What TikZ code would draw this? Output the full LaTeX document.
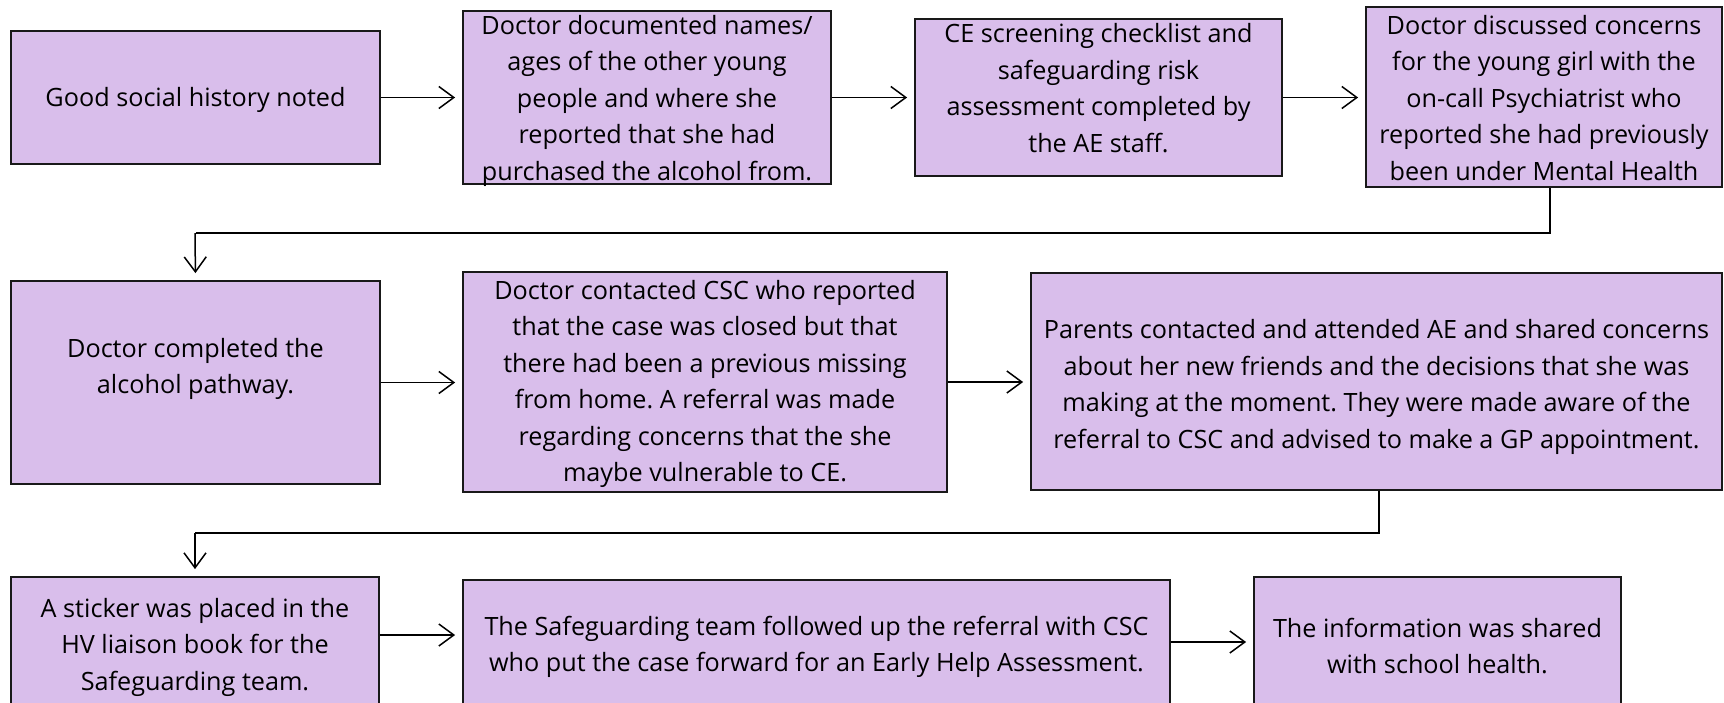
\documentclass[tikz,border=0pt]{standalone}
\usepackage{fontspec}
\setmainfont{Open Sans}
\usetikzlibrary{arrows.meta}
\definecolor{boxfill}{RGB}{217,190,235}
\definecolor{edge}{RGB}{25,25,25}
\tikzset{
  box/.style={draw=edge, line width=1.8pt, fill=boxfill, inner sep=0pt},
  txt/.style={align=center, inner sep=0pt, text=black, font={\fontsize{25.2}{36.5}\selectfont\frenchspacing}},
  arr/.style={draw=black, line width=1.5pt, shorten >=7pt, -{Straight Barb[length=15pt,width=22pt,line width=1.5pt]}},
  conn/.style={draw=black, line width=1.8pt}
}
\begin{document}
\begin{tikzpicture}[x=1pt,y=-1pt]
\clip (0,0) rectangle (1724,702);
\fill[white] (0,0) rectangle (1724,702);
% row 1
\node[box, minimum width=369pt, minimum height=133pt] (b1) at (195.5,97.5) {};
\node[box, minimum width=368pt, minimum height=173pt] (b2) at (647,97.5) {};
\node[box, minimum width=367pt, minimum height=157pt] (b3) at (1098.5,97.5) {};
\node[box, minimum width=356pt, minimum height=180pt] (b4) at (1544,97) {};
\node[txt] (t1) at (195.5,100) {Good social history noted};
\node[txt] (t2) at (647,100.5) {Doctor documented names/\\ages of the other young\\people and where she\\reported that she had\\purchased the alcohol from.};
\node[txt] (t3) at (1098.5,88) {CE screening checklist and\\safeguarding risk\\assessment completed by\\the AE staff.};
\node[txt] (t4) at (1544,98) {Doctor discussed concerns\\for the young girl with the\\on-call Psychiatrist who\\reported she had previously\\been under Mental Health};
% row 2
\node[box, minimum width=369pt, minimum height=203pt] (b5) at (195.5,382.5) {};
\node[box, minimum width=484pt, minimum height=220pt] (b6) at (705,382) {};
\node[box, minimum width=691pt, minimum height=217pt] (b7) at (1376.5,381.5) {};
\node[txt] (t5) at (195.5,369) {Doctor completed the\\alcohol pathway.};
\node[txt] (t6) at (705,384) {Doctor contacted CSC who reported\\that the case was closed but that\\there had been a previous missing\\from home. A referral was made\\regarding concerns that the she\\maybe vulnerable to CE.};
\node[txt] (t7) at (1376.5,387) {Parents contacted and attended AE and shared concerns\\about her new friends and the decisions that she was\\making at the moment. They were made aware of the\\referral to CSC and advised to make a GP appointment.};
% row 3
\node[box, minimum width=368pt, minimum height=143pt] (b8) at (195,648.5) {};
\node[box, minimum width=707pt, minimum height=140pt] (b9) at (816.5,650) {};
\node[box, minimum width=367pt, minimum height=143pt] (b10) at (1437.5,648.5) {};
\node[txt] (t8) at (195,647) {A sticker was placed in the\\HV liaison book for the\\Safeguarding team.};
\node[txt] (t9) at (816.5,647) {The Safeguarding team followed up the referral with CSC\\who put the case forward for an Early Help Assessment.};
\node[txt] (t10) at (1437.5,646) {The information was shared\\with school health.};
% arrows
\draw[arr] (b1.east) -- (b2.west |- b1.east);
\draw[arr] (b2.east) -- (b3.west |- b2.east);
\draw[arr] (b3.east) -- (b4.west |- b3.east);
\coordinate (k1) at (1550,233);
\draw[conn] (b4.south -| k1) -- (k1) -- (k1 -| b5.north);
\draw[arr] (195,233) -- (b5.north);
\draw[arr] (b5.east) -- (b6.west |- b5.east);
\draw[arr] (b6.east) -- (b7.west |- b6.east);
\coordinate (k2) at (1379,533);
\draw[conn] (b7.south -| k2) -- (k2) -- (k2 -| b8.north);
\draw[arr] (195,533) -- (b8.north);
\coordinate (r3a) at (0,635);
\coordinate (r3b) at (0,642);
\draw[arr] (b8.east |- r3a) -- (b9.west |- r3a);
\draw[arr] (b9.east |- r3b) -- (b10.west |- r3b);
\end{tikzpicture}
\end{document}
